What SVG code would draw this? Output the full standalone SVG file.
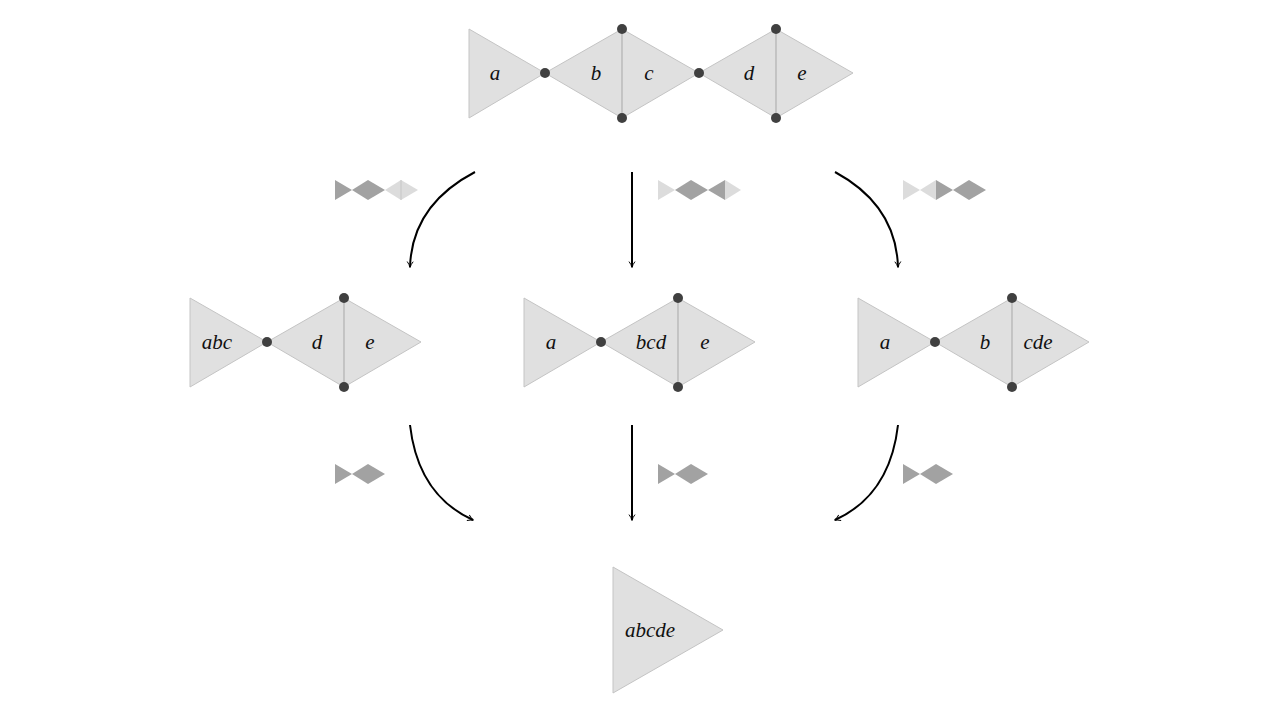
<svg xmlns="http://www.w3.org/2000/svg" width="1280" height="720" viewBox="0 0 1280 720">
<style>
.s{fill:#e0e0e0;stroke:#c4c4c4;stroke-width:1}
.v{stroke:#b0b0b0;stroke-width:1.2}
.d{fill:#404040}
.t{font-family:"Liberation Serif",serif;font-style:italic;font-size:21px;fill:#111;text-anchor:middle;dominant-baseline:central}
.k{fill:#a2a2a2}
.l{fill:#dcdcdc}
.c{fill:none;stroke:#000;stroke-width:2;marker-end:url(#ah)}
</style>
<defs>
<marker id="ah" viewBox="0 0 10 10" refX="9" refY="5" markerWidth="6" markerHeight="6" orient="auto" markerUnits="userSpaceOnUse" overflow="visible">
<path d="M0,0 Q5,4 10,5 Q5,6 0,10" fill="none" stroke="#000" stroke-width="1.6"/>
</marker>
</defs>
<g id="top">
<polygon class="s" points="469,29 545,73 469,118"/>
<polygon class="s" points="545,73 622,29 699,73 622,118"/>
<polygon class="s" points="699,73 776,29 853,73 776,118"/>
<line class="v" x1="622" y1="29" x2="622" y2="118"/><line class="v" x1="776" y1="29" x2="776" y2="118"/>
<circle class="d" cx="545" cy="73" r="5"/><circle class="d" cx="622" cy="29" r="5"/><circle class="d" cx="622" cy="118" r="5"/><circle class="d" cx="699" cy="73" r="5"/><circle class="d" cx="776" cy="29" r="5"/><circle class="d" cx="776" cy="118" r="5"/>
<text class="t" x="495" y="73">a</text><text class="t" x="596" y="73">b</text><text class="t" x="649" y="73">c</text><text class="t" x="749" y="73">d</text><text class="t" x="802" y="73">e</text>
</g>
<g id="left">
<polygon class="s" points="190,298 267,342 190,387"/>
<polygon class="s" points="267,342 344,298 421,342 344,387"/>
<line class="v" x1="344" y1="298" x2="344" y2="387"/>
<circle class="d" cx="267" cy="342" r="5"/><circle class="d" cx="344" cy="298" r="5"/><circle class="d" cx="344" cy="387" r="5"/>
<text class="t" x="217" y="342">abc</text><text class="t" x="317" y="342">d</text><text class="t" x="370" y="342">e</text>
</g>
<g id="middle">
<polygon class="s" points="524,298 601,342 524,387"/>
<polygon class="s" points="601,342 678,298 755,342 678,387"/>
<line class="v" x1="678" y1="298" x2="678" y2="387"/>
<circle class="d" cx="601" cy="342" r="5"/><circle class="d" cx="678" cy="298" r="5"/><circle class="d" cx="678" cy="387" r="5"/>
<text class="t" x="551" y="342">a</text><text class="t" x="651" y="342">bcd</text><text class="t" x="705" y="342">e</text>
</g>
<g id="right">
<polygon class="s" points="858,298 935,342 858,387"/>
<polygon class="s" points="935,342 1012,298 1089,342 1012,387"/>
<line class="v" x1="1012" y1="298" x2="1012" y2="387"/>
<circle class="d" cx="935" cy="342" r="5"/><circle class="d" cx="1012" cy="298" r="5"/><circle class="d" cx="1012" cy="387" r="5"/>
<text class="t" x="885" y="342">a</text><text class="t" x="985" y="342">b</text><text class="t" x="1038" y="342">cde</text>
</g>
<g id="bottom">
<polygon class="s" points="613,567 723,630 613,693"/>
<text class="t" x="650" y="630">abcde</text>
</g>
<g id="icons">
<polygon class="k" points="335,180 352,190 335,200"/><polygon class="k" points="352,190 368,180 385,190 368,200"/><polygon class="l" points="385,190 401,180 418,190 401,200"/><line x1="401" y1="180" x2="401" y2="200" stroke="#c0c0c0" stroke-width="0.8"/>
<polygon class="l" points="658,180 675,190 658,200"/><polygon class="k" points="675,190 691,180 708,190 691,200"/><polygon class="k" points="708,190 725,180 725,200"/><polygon class="l" points="725,180 741,190 725,200"/>
<polygon class="l" points="903,180 920,190 903,200"/><polygon class="l" points="920,190 936,180 936,200"/><polygon class="k" points="936,180 953,190 936,200"/><polygon class="k" points="953,190 969,180 986,190 969,200"/>
<polygon class="k" points="335,464 352,474 335,484"/><polygon class="k" points="352,474 368,464 385,474 368,484"/>
<polygon class="k" points="658,464 675,474 658,484"/><polygon class="k" points="675,474 691,464 708,474 691,484"/>
<polygon class="k" points="903,464 920,474 903,484"/><polygon class="k" points="920,474 936,464 953,474 936,484"/>
</g>
<g id="connectors">
<path class="c" d="M475,172 Q412,205 410,267"/>
<path class="c" d="M632,172 L632,267"/>
<path class="c" d="M835,172 Q896,205 898,267"/>
<path class="c" d="M410,425 Q418,495 473,520"/>
<path class="c" d="M632,425 L632,520"/>
<path class="c" d="M898,425 Q890,495 835,520"/>
</g>
</svg>
